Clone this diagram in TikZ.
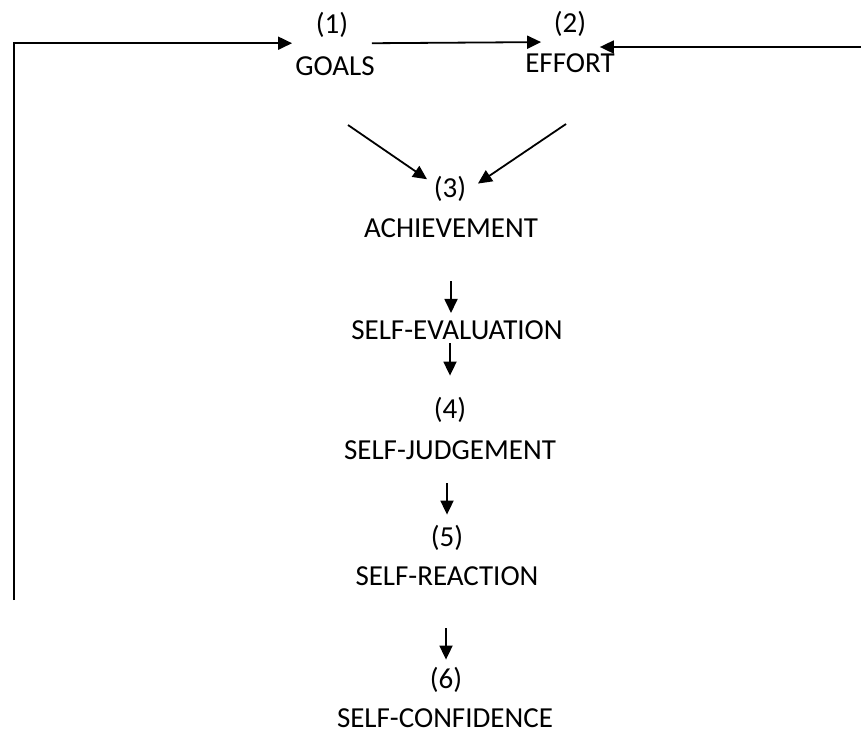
\documentclass[tikz,border=0pt]{standalone}
\usepackage{fontspec}
\setmainfont{Carlito}
\usetikzlibrary{arrows.meta}
\tikzstyle{pixelPage} = [x = 1pt, y = -1pt]
\tikzstyle{stageText} = [inner sep = 0pt, anchor = base, font = \stageFont]
\tikzstyle{stageNumber} = [stageText, text depth = 10pt]
\tikzstyle{flowArrow} = [-{Triangle[length = 14pt, width = 13pt]}, line width = 1.8pt]
\newcommand{\stageFont}{\fontsize{29}{35}\selectfont}
\begin{document}
\begin{tikzpicture}[pixelPage]
        \useasboundingbox (0,0) rectangle (861,734);
        % stages
        \node [stageNumber] (num1) at (332,33) {(1)};
        \node [stageText] (goals) at (335,75) {GOALS};
        \node [stageNumber] (num2) at (570,32) {(2)};
        \node [stageText] (effort) at (570,72) {EFFORT};
        \node [stageNumber] (num3) at (450,197) {(3)};
        \node [stageText] (achieve) at (451,237) {ACHIEVEMENT};
        \node [stageText] (selfEval) at (457,339) {SELF-EVALUATION};
        \node [stageNumber] (num4) at (450,418) {(4)};
        \node [stageText] (selfJudge) at (450,459) {SELF-JUDGEMENT};
        \node [stageNumber] (num5) at (447,546) {(5)};
        \node [stageText] (selfReact) at (447,585) {SELF-REACTION};
        \node [stageNumber] (num6) at (446,688) {(6)};
        \node [stageText] (selfConf) at (445,727) {SELF-CONFIDENCE};

        % free ends
        \coordinate (loopIn) at (14,600);
        \coordinate (rightIn) at (861,47);
        \coordinate (goalsOut) at (348,125);
        \coordinate (effortOut) at (566,124);

        % top row
        \draw [flowArrow, shorten > = 3pt] (loopIn) |- (num1.south -| goals.west);
        \draw [flowArrow, shorten < = -3pt, shorten > = -16pt] (num1.south -| goals.east) -- (num2.south -| effort.west);
        \draw [flowArrow, shorten > = -15pt] (rightIn) -- (effort.east |- rightIn);
        \draw [flowArrow, shorten > = 8pt] (goalsOut) -- (num3.155);
        \draw [flowArrow, shorten > = 14pt] (effortOut) -- (num3.east);

        % column
        \draw [flowArrow, shorten < = 44pt, shorten > = 7pt] (achieve.south) -- (achieve.south |- selfEval.north);
        \draw [flowArrow, shorten < = 4pt, shorten > = 21pt] (num4.north |- selfEval.south) -- (num4.north);
        \draw [flowArrow, shorten < = 24pt, shorten > = 10pt] (num5.north |- selfJudge.south) -- (num5.north);
        \draw [flowArrow, shorten < = 43pt, shorten > = 7pt] (num6.north |- selfReact.south) -- (num6.north);
      \end{tikzpicture}
\end{document}
